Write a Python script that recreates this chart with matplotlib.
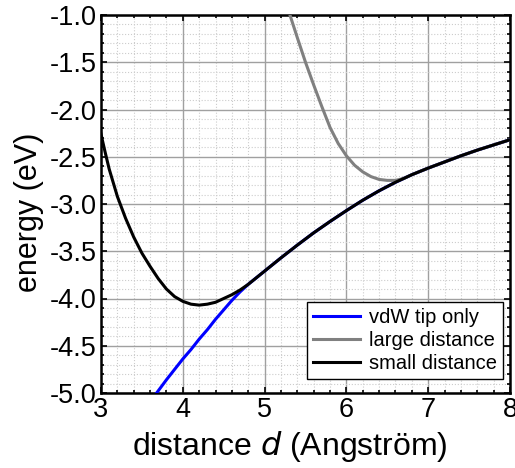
import matplotlib
matplotlib.use("Agg")
import matplotlib.pyplot as plt
from matplotlib.ticker import MultipleLocator, FormatStrFormatter

plt.rcParams['font.family'] = ['Liberation Sans', 'DejaVu Sans']
plt.rcParams['axes.unicode_minus'] = False

# values
d_vdw = [3.68, 3.8, 3.9, 4.0, 4.1, 4.2, 4.3, 4.4, 4.5, 4.6, 4.7, 4.8, 4.9, 5.0,
         5.2, 5.4, 5.6, 5.8, 6.0, 6.2, 6.4, 6.6, 6.8, 7.0, 7.2, 7.4, 7.6, 7.8, 8.0]
e_vdw = [-5.0, -4.86, -4.75, -4.64, -4.54, -4.43, -4.33, -4.22, -4.12, -4.02, -3.93, -3.85, -3.78, -3.71,
         -3.57, -3.435, -3.305, -3.185, -3.07, -2.96, -2.86, -2.77, -2.69, -2.62, -2.555, -2.49, -2.43, -2.375, -2.32]

d_large = [5.31, 5.4, 5.5, 5.6, 5.7, 5.8, 5.9, 6.0, 6.1, 6.2, 6.3, 6.4, 6.5, 6.6, 6.7, 6.8,
           7.0, 7.2, 7.4, 7.6, 7.8, 8.0]
e_large = [-1.0, -1.24, -1.50, -1.74, -1.97, -2.19, -2.36, -2.49, -2.59, -2.66, -2.71, -2.74, -2.75, -2.75, -2.73, -2.69,
           -2.62, -2.555, -2.49, -2.43, -2.375, -2.32]

d_small = [3.0, 3.05, 3.1, 3.2, 3.3, 3.4, 3.5, 3.6, 3.7, 3.8, 3.9, 4.0, 4.1, 4.2, 4.3, 4.4, 4.5, 4.6, 4.7, 4.8, 4.9, 5.0,
           5.2, 5.4, 5.6, 5.8, 6.0, 6.2, 6.4, 6.6, 6.8, 7.0, 7.2, 7.4, 7.6, 7.8, 8.0]
e_small = [-2.26, -2.45, -2.63, -2.92, -3.15, -3.35, -3.52, -3.66, -3.79, -3.90, -3.98, -4.03, -4.06, -4.07, -4.06, -4.04,
           -4.00, -3.96, -3.91, -3.85, -3.78, -3.71,
           -3.57, -3.435, -3.305, -3.185, -3.07, -2.96, -2.86, -2.77, -2.69, -2.62, -2.555, -2.49, -2.43, -2.375, -2.32]

fig = plt.figure(figsize=(5.15, 4.68), dpi=100)
ax = fig.add_axes([101 / 515, 75 / 468, 409 / 515, 378 / 468])

ax.plot(d_vdw, e_vdw, color='#0000ff', lw=2.2, label='vdW tip only', zorder=3)
ax.plot(d_large, e_large, color='#808080', lw=2.2, label='large distance', zorder=4)
ax.plot(d_small, e_small, color='black', lw=2.2, label='small distance', zorder=5)

ax.set_xlim(3, 8)
ax.set_ylim(-5, -1)
ax.xaxis.set_major_locator(MultipleLocator(1))
ax.xaxis.set_minor_locator(MultipleLocator(0.2))
ax.yaxis.set_major_locator(MultipleLocator(0.5))
ax.yaxis.set_minor_locator(MultipleLocator(0.1))
ax.yaxis.set_major_formatter(FormatStrFormatter('%.1f'))

ax.grid(True, which='major', color='#a0a0a0', lw=1.0, ls='-')
ax.grid(True, which='minor', color='#cccccc', lw=0.8, ls=':')
ax.set_axisbelow(True)

ax.tick_params(which='both', direction='in', top=True, right=True, width=1.2)
ax.tick_params(which='major', length=4, labelsize=19.5, pad=3)
ax.tick_params(which='minor', length=2.5)
for sp in ax.spines.values():
    sp.set_linewidth(1.8)

ax.set_xlabel('distance $d$ (Angström)', fontsize=23, labelpad=3)
ax.xaxis.set_label_coords(0.462, -0.095)
ax.set_ylabel('energy (eV)', fontsize=22)
ax.yaxis.set_label_coords(-0.14, 0.479)

leg = ax.legend(loc='lower right', bbox_to_anchor=(0.982, 0.036), fontsize=14.5, frameon=True, fancybox=False,
                edgecolor='black', framealpha=1, handlelength=2.3, borderpad=0.3, labelspacing=0.2,
                handletextpad=0.45, borderaxespad=0)
leg.get_frame().set_linewidth(1.0)

fig.savefig('out.png', dpi=100)
